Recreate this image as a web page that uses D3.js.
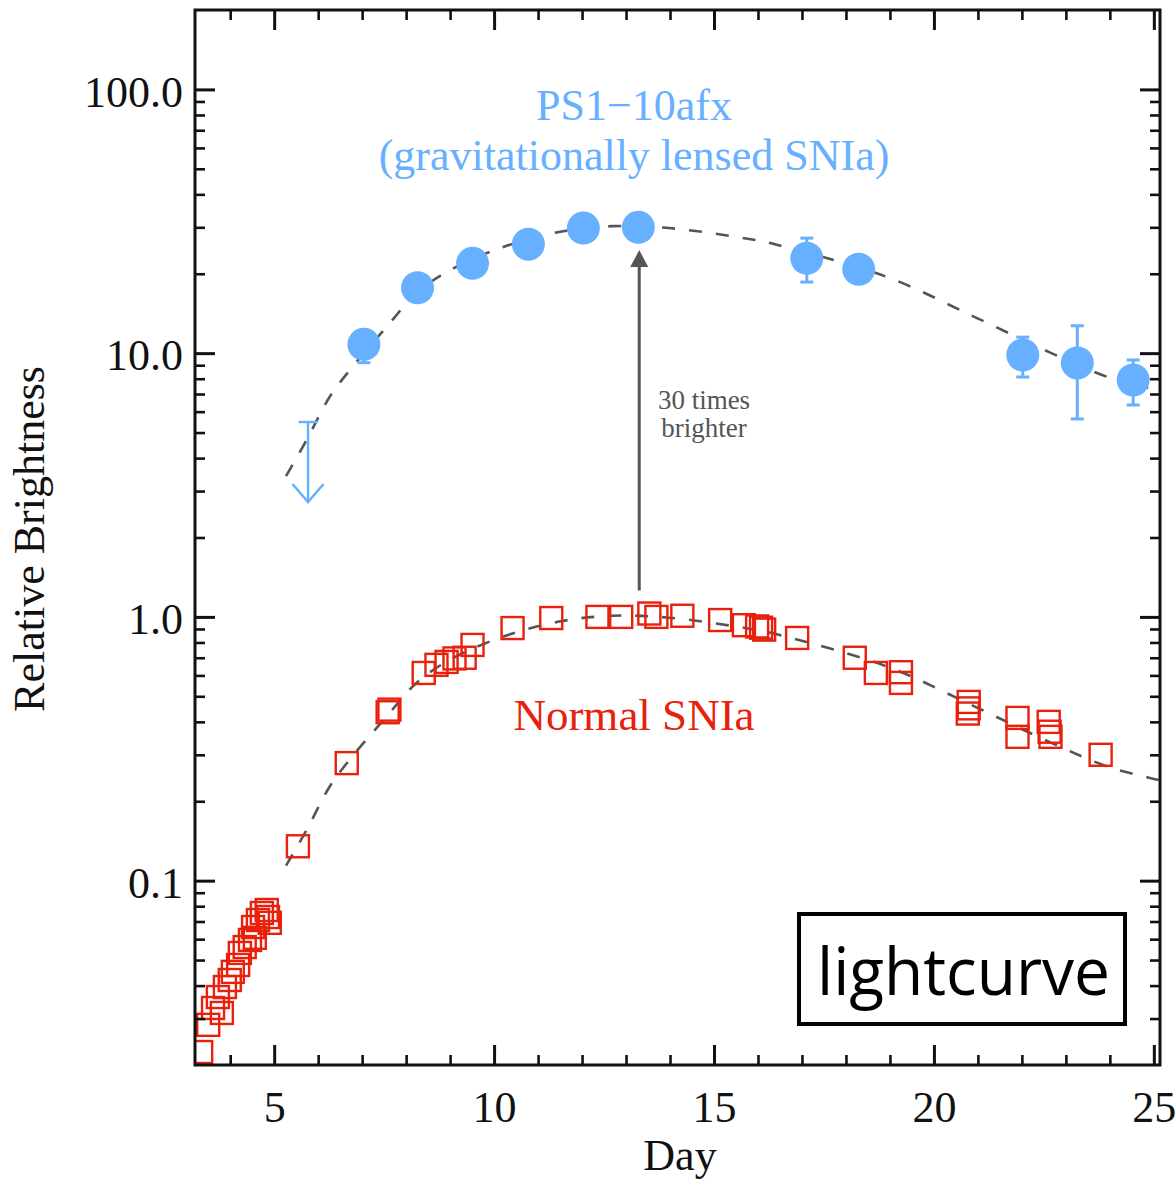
<!DOCTYPE html>
<html><head><meta charset="utf-8">
<script src="https://cdn.jsdelivr.net/npm/d3@7"></script>
<style>body{margin:0;background:#fff;} svg{display:block;}</style>
</head><body>
<svg id="chart" width="1176" height="1179"></svg>
<script>
// ---------------- DATA ----------------
const dayTicks = [5, 10, 15, 20, 25];
const dayTickLabels = ["5", "10", "15", "20", "25"];
const dayMinorTicks = [4, 6, 7, 8, 9, 11, 12, 13, 14, 16, 17, 18, 19, 21, 22, 23, 24];
const brightnessTicks = [0.1, 1, 10, 100];
const brightnessTickLabels = ["0.1", "1.0", "10.0", "100.0"];
const brightnessMinorTicks = [0.03,0.04,0.05,0.06,0.07,0.08,0.09,0.2,0.3,0.4,0.5,0.6,0.7,0.8,0.9,2,3,4,5,6,7,8,9,20,30,40,50,60,70,80,90];

// PS1-10afx (lensed SNIa)
const lensedDays     = [7.04, 8.26, 9.51, 10.78, 12.03, 13.28, 17.11, 18.29, 22.02, 23.26, 24.53];
const lensedFlux     = [10.8, 17.7, 21.9, 25.9, 29.8, 30.0, 22.9, 20.8, 9.84, 9.18, 7.91];
const lensedErrLow   = [9.2, 16.6, 20.7, 24.6, 28.4, 28.6, 18.6, 19.7, 8.12, 5.63, 6.36];
const lensedErrHigh  = [12.2, 18.9, 23.1, 27.2, 31.2, 31.4, 27.3, 21.9, 11.5, 12.7, 9.42];
const upperLimitDay  = [5.77];
const upperLimitFlux = [5.48];

// Normal SNIa
const normalDays = [3.34,3.50,3.61,3.81,3.72,3.88,3.99,4.06,4.18,4.22,4.33,4.45,4.56,4.52,4.63,4.72,4.83,4.86,4.90,
  5.54,6.65,7.58,7.62,8.40,8.69,8.92,9.10,9.33,9.51,10.42,11.30,12.35,12.89,13.53,13.69,14.28,15.14,15.68,15.98,16.07,16.14,
  16.89,18.20,18.68,19.25,19.25,20.79,20.79,20.77,21.90,21.90,22.61,22.63,22.65,23.79];
const normalFlux = [0.0224,0.0284,0.0329,0.0315,0.0362,0.0395,0.0420,0.0451,0.0479,0.0532,0.0560,0.0596,0.0607,0.0667,0.0709,0.0754,0.0774,0.0728,0.0692,
  0.135,0.279,0.435,0.445,0.613,0.658,0.675,0.696,0.700,0.783,0.907,0.99,1.0,1.0,1.03,1.0,1.01,0.973,0.93,0.92,0.91,0.895,
  0.832,0.70,0.613,0.617,0.562,0.476,0.45,0.43,0.414,0.351,0.40,0.367,0.351,0.30];

// template fits (dashed)
const lensedFitDays = [5.27, 5.74, 6.26, 6.72, 7.56, 8.24, 8.99, 10.19, 11.48, 12.69, 13.98, 15.96, 16.45, 18.95, 20.93, 22.67, 23.94, 24.87];
const lensedFit     = [3.42, 4.69, 6.82, 8.63, 12.6, 16.9, 20.6, 25.2, 28.8, 30.3, 29.8, 26.8, 25.7, 19.4, 13.7, 10.0, 8.13, 7.38];
const normalFitDays = [5.27, 5.74, 6.26, 6.72, 7.56, 8.24, 8.99, 10.19, 11.48, 12.69, 13.98, 15.96, 16.45, 18.95, 20.93, 22.67, 23.94, 24.87, 25.14];
const normalFit     = [0.114, 0.156, 0.227, 0.288, 0.42, 0.563, 0.687, 0.84, 0.96, 1.01, 0.993, 0.893, 0.857, 0.647, 0.457, 0.333, 0.271, 0.246, 0.24];

// "30 times brighter" arrow
const arrowDay = [13.3];
const arrowFrom = [1.26];
const arrowTo = [24.6];

// text labels
const lensedTitle = ["PS1\u221210afx", "(gravitationally lensed SNIa)"];
const normalTitle = ["Normal SNIa"];
const arrowText = ["30 times", "brighter"];

// ---------------- STYLE ----------------
const BLUE = "#66b0ff", RED = "#e8200c", GRAY = "#555555", BLACK = "#111111";
const SERIF = "'Liberation Serif', 'Times New Roman', serif";

const svg = d3.select("#chart");
const L = 195, R = 1160, T = 10, B = 1065;
const x = d3.scaleLinear().domain([3.2, 25.14]).range([L, R]);
const y = d3.scaleLog().domain([0.02, 200]).range([B, T]);

svg.append("defs").append("clipPath").attr("id", "clip")
  .append("rect").attr("x", L).attr("y", T).attr("width", R - L).attr("height", B - T);

const plot = svg.append("g").attr("clip-path", "url(#clip)");

// dashed fit curves
const line = d3.line().x(d => x(d[0])).y(d => y(d[1])).curve(d3.curveCatmullRom.alpha(0.5));
plot.append("path").datum(lensedFitDays.map((d, i) => [d, lensedFit[i]]))
  .attr("d", line).attr("fill", "none").attr("stroke", GRAY).attr("stroke-width", 2.6).attr("stroke-dasharray", "13,14");
plot.append("path").datum(normalFitDays.map((d, i) => [d, normalFit[i]]))
  .attr("d", line).attr("fill", "none").attr("stroke", GRAY).attr("stroke-width", 2.6).attr("stroke-dasharray", "13,14");

// normal SNIa squares
const SQ = 22;
plot.selectAll("rect.sq").data(normalDays.map((d, i) => [d, normalFlux[i]])).join("rect")
  .attr("class", "sq")
  .attr("x", d => x(d[0]) - SQ / 2).attr("y", d => y(d[1]) - SQ / 2)
  .attr("width", SQ).attr("height", SQ)
  .attr("fill", "none").attr("stroke", RED).attr("stroke-width", 2.4);

// arrow 30x
const ax = x(arrowDay[0]), ay0 = y(arrowFrom[0]), ay1 = y(arrowTo[0]);
plot.append("line").attr("x1", ax).attr("x2", ax).attr("y1", ay0).attr("y2", ay1 + 12)
  .attr("stroke", GRAY).attr("stroke-width", 3);
plot.append("path").attr("d", `M${ax},${ay1} L${ax - 9},${ay1 + 17} L${ax + 9},${ay1 + 17} Z`).attr("fill", GRAY);

// lensed error bars
const lensed = lensedDays.map((d, i) => ({ d, f: lensedFlux[i], lo: lensedErrLow[i], hi: lensedErrHigh[i] }));
const eb = plot.append("g").attr("stroke", BLUE).attr("stroke-width", 3);
lensed.forEach(p => {
  const cx = x(p.d);
  eb.append("line").attr("x1", cx).attr("x2", cx).attr("y1", y(p.lo)).attr("y2", y(p.hi));
  eb.append("line").attr("x1", cx - 6.5).attr("x2", cx + 6.5).attr("y1", y(p.lo)).attr("y2", y(p.lo));
  eb.append("line").attr("x1", cx - 6.5).attr("x2", cx + 6.5).attr("y1", y(p.hi)).attr("y2", y(p.hi));
});
plot.selectAll("circle.ps").data(lensed).join("circle")
  .attr("class", "ps").attr("cx", p => x(p.d)).attr("cy", p => y(p.f)).attr("r", 16.5).attr("fill", BLUE);

// upper limit
const ul = plot.append("g").attr("stroke", BLUE).attr("stroke-width", 2.4).attr("fill", "none");
const ux = x(upperLimitDay[0]), uy = y(upperLimitFlux[0]);
ul.append("line").attr("x1", ux - 9.5).attr("x2", ux + 9.5).attr("y1", uy).attr("y2", uy);
ul.append("line").attr("x1", ux).attr("x2", ux).attr("y1", uy).attr("y2", uy + 80);
ul.append("path").attr("d", `M${ux - 15.5},${uy + 62} L${ux},${uy + 80} L${ux + 15.5},${uy + 62}`);

// ---------------- AXES ----------------
function styleAxis(g, width) {
  g.select(".domain").remove();
  g.selectAll(".tick line").attr("stroke", BLACK).attr("stroke-width", width);
  g.selectAll("text").attr("font-family", SERIF).attr("font-size", 44).attr("fill", BLACK);
}
// bottom
svg.append("g").attr("transform", `translate(0,${B})`)
  .call(d3.axisBottom(x).tickValues(dayTicks).tickFormat((d, i) => dayTickLabels[i]).tickSizeInner(-20).tickSizeOuter(0).tickPadding(26))
  .call(g => styleAxis(g, 3));
svg.append("g").attr("transform", `translate(0,${B})`)
  .call(d3.axisBottom(x).tickValues(dayMinorTicks).tickFormat("").tickSizeInner(-10).tickSizeOuter(0))
  .call(g => styleAxis(g, 2.6));
// top
svg.append("g").attr("transform", `translate(0,${T})`)
  .call(d3.axisTop(x).tickValues(dayTicks).tickFormat("").tickSizeInner(-20).tickSizeOuter(0))
  .call(g => styleAxis(g, 3));
svg.append("g").attr("transform", `translate(0,${T})`)
  .call(d3.axisTop(x).tickValues(dayMinorTicks).tickFormat("").tickSizeInner(-10).tickSizeOuter(0))
  .call(g => styleAxis(g, 2.6));
// left
svg.append("g").attr("transform", `translate(${L},0)`)
  .call(d3.axisLeft(y).tickValues(brightnessTicks).tickFormat((d, i) => brightnessTickLabels[i]).tickSizeInner(-20).tickSizeOuter(0).tickPadding(12))
  .call(g => styleAxis(g, 3))
  .call(g => g.selectAll("text").attr("dy", "0.38em"));
svg.append("g").attr("transform", `translate(${L},0)`)
  .call(d3.axisLeft(y).tickValues(brightnessMinorTicks).tickFormat("").tickSizeInner(-10).tickSizeOuter(0))
  .call(g => styleAxis(g, 2.6));
// right
svg.append("g").attr("transform", `translate(${R},0)`)
  .call(d3.axisRight(y).tickValues(brightnessTicks).tickFormat("").tickSizeInner(-20).tickSizeOuter(0))
  .call(g => styleAxis(g, 3));
svg.append("g").attr("transform", `translate(${R},0)`)
  .call(d3.axisRight(y).tickValues(brightnessMinorTicks).tickFormat("").tickSizeInner(-10).tickSizeOuter(0))
  .call(g => styleAxis(g, 2.6));

// frame
svg.append("rect").attr("x", L).attr("y", T).attr("width", R - L).attr("height", B - T)
  .attr("fill", "none").attr("stroke", BLACK).attr("stroke-width", 3);

// axis titles
svg.append("text").attr("x", 680).attr("y", 1170).attr("text-anchor", "middle")
  .attr("font-family", SERIF).attr("font-size", 44).attr("fill", BLACK).text("Day");
svg.append("text").attr("transform", "translate(44,539) rotate(-90)").attr("text-anchor", "middle")
  .attr("font-family", SERIF).attr("font-size", 44).attr("fill", BLACK).text("Relative Brightness");

// annotations (multi-line blocks as one text element with tspans)
function multiLine(xPos, yPos, lines, lineGap, size, color) {
  const t = svg.append("text").attr("x", xPos).attr("y", yPos).attr("text-anchor", "middle")
    .attr("font-family", SERIF).attr("font-size", size).attr("fill", color);
  lines.forEach((s, i) => t.append("tspan").attr("x", xPos).attr("dy", i === 0 ? 0 : lineGap).text(s));
}
multiLine(634, 120, lensedTitle, 50, 44, BLUE);
multiLine(634, 730, normalTitle, 0, 45, RED);
multiLine(704, 409, arrowText, 28, 27, GRAY);

// lightcurve box
svg.append("rect").attr("x", 799).attr("y", 914).attr("width", 326).attr("height", 110)
  .attr("fill", "#fff").attr("stroke", "#000").attr("stroke-width", 4);
svg.append("text").attr("x", 817).attr("y", 995)
  .attr("font-family", "'Open Sans', 'Lato', sans-serif").attr("font-size", 66).attr("fill", "#000")
  .attr("textLength", 293).attr("lengthAdjust", "spacingAndGlyphs").text("lightcurve");
</script>
</body></html>
